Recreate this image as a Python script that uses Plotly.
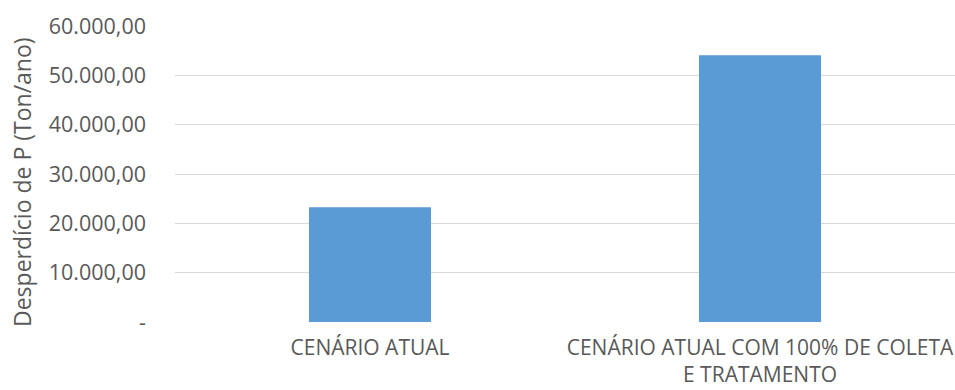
import plotly.graph_objects as go

# Cenários e desperdício de fósforo (t/ano)
cenarios = ["CENÁRIO ATUAL", "CENÁRIO ATUAL COM 100% DE COLETA<br>E TRATAMENTO"]
desperdicio = [23250, 54050]

tick_vals = [0, 10000, 20000, 30000, 40000, 50000, 60000]
tick_text = ["-", "10.000,00", "20.000,00", "30.000,00", "40.000,00", "50.000,00", "60.000,00"]

titulo_y = "Desperdício de P (Ton/ano)"

texto = "#595959"
fonte = "Open Sans"

fig = go.Figure(
    go.Bar(
        x=cenarios,
        y=desperdicio,
        width=0.313,
        marker=dict(color="#5b9bd5", line=dict(width=0)),
    )
)

fig.update_layout(
    width=955,
    height=390,
    margin=dict(l=175, r=0, t=26, b=68),
    paper_bgcolor="white",
    plot_bgcolor="white",
    font=dict(family=fonte, color=texto, size=21),
    showlegend=False,
    bargap=0.687,
)

fig.update_xaxes(
    showgrid=False,
    showline=False,
    zeroline=False,
    ticks="",
    automargin=False,
    ticklabelstandoff=11,
    tickfont=dict(size=21, color=texto, family=fonte),
)

fig.update_yaxes(
    range=[0, 60000],
    tickvals=tick_vals,
    ticktext=tick_text,
    showgrid=True,
    gridcolor="#d9d9d9",
    gridwidth=1,
    zeroline=False,
    showline=False,
    ticks="",
    automargin=False,
    ticklabelstandoff=28,
    tickfont=dict(size=21.5, color=texto, family=fonte),
)

# Título do eixo vertical, posicionado ao lado dos rótulos
fig.add_annotation(
    text=titulo_y,
    textangle=-90,
    xref="paper",
    yref="paper",
    x=0,
    y=0.473,
    xanchor="center",
    yanchor="middle",
    xshift=-153,
    showarrow=False,
    font=dict(size=23, color=texto, family=fonte),
)

fig.write_html("out.html")
